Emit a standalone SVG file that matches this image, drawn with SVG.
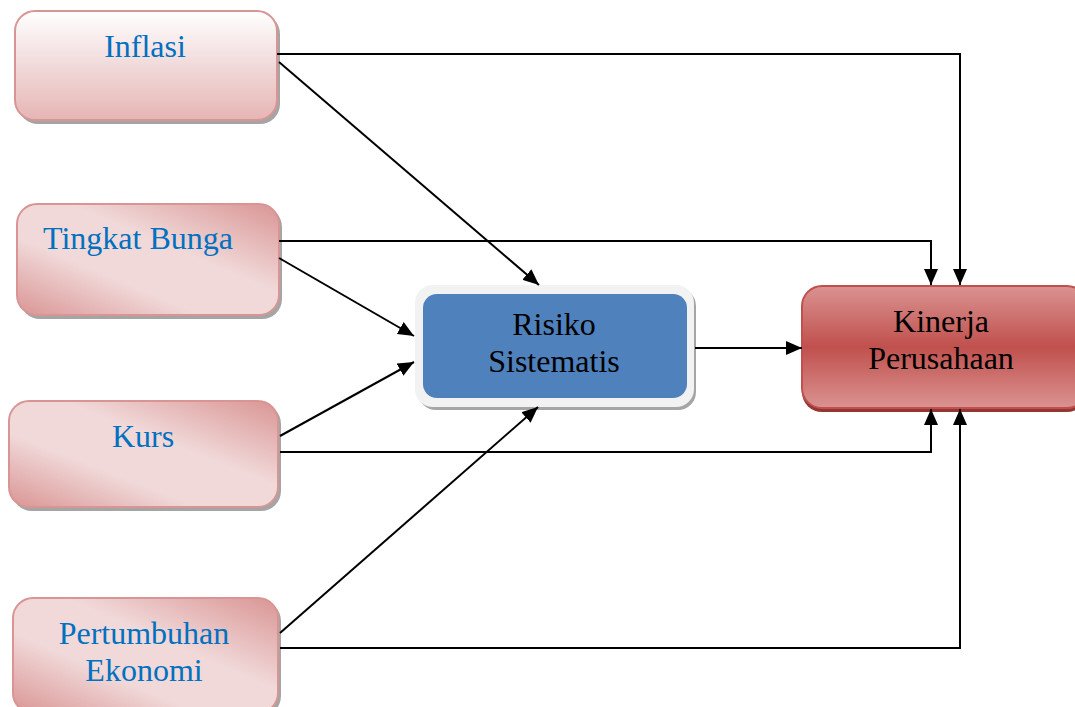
<svg xmlns="http://www.w3.org/2000/svg" width="1075" height="707" viewBox="0 0 1075 707">
<defs>
<linearGradient id="gInf" x1="0" y1="0" x2="0" y2="1">
<stop offset="0" stop-color="#FFFFFF"/>
<stop offset="0.55" stop-color="#F0D6D6"/>
<stop offset="1" stop-color="#E6B5B4"/>
</linearGradient>
<linearGradient id="gPink" x1="0" y1="1" x2="1" y2="0">
<stop offset="0" stop-color="#D99594"/>
<stop offset="0.35" stop-color="#F1D9D9"/>
<stop offset="0.6" stop-color="#F1D9D9"/>
<stop offset="1" stop-color="#D99594"/>
</linearGradient>
<linearGradient id="gRed" x1="0" y1="0" x2="0" y2="1">
<stop offset="0" stop-color="#DA9391"/>
<stop offset="0.5" stop-color="#C0504D"/>
<stop offset="1" stop-color="#DA9391"/>
</linearGradient>
<marker id="arr" markerWidth="16" markerHeight="14" refX="16" refY="7" orient="auto" markerUnits="userSpaceOnUse">
<path d="M0,0 L16,7 L0,14 Z" fill="#000"/>
</marker>
</defs>
<style>
.shadow{fill:#7F7F7F;opacity:0.7}
.pink{stroke:#D99594;stroke-width:2}
.lbl{font-family:"Liberation Serif","Times New Roman",serif;font-size:32px;fill:#0070C0;text-anchor:middle}
.dark{font-family:"Liberation Serif","Times New Roman",serif;font-size:32px;fill:#000;text-anchor:middle}
.con{fill:none;stroke:#000;stroke-width:2}
</style>
<rect width="1075" height="707" fill="#FFFFFF"/>

<g id="inflasi">
<rect class="shadow" x="18" y="14" width="262" height="110" rx="20"/>
<rect class="pink" x="15" y="11" width="262" height="109" rx="20" fill="url(#gInf)"/>
<text class="lbl" x="145" y="57">Inflasi</text>
</g>

<g id="tingkat-bunga">
<rect class="shadow" x="20" y="207" width="262" height="112" rx="20"/>
<rect class="pink" x="17" y="204" width="262" height="111" rx="20" fill="url(#gPink)"/>
<text class="lbl" x="43" y="249" style="text-anchor:start">Tingkat Bunga</text>
</g>

<g id="kurs">
<rect class="shadow" x="12" y="404" width="269" height="107" rx="20"/>
<rect class="pink" x="9" y="401" width="269" height="106" rx="20" fill="url(#gPink)"/>
<text class="lbl" x="143" y="447">Kurs</text>
</g>

<g id="pertumbuhan-ekonomi">
<rect class="shadow" x="16" y="601" width="265" height="115" rx="20"/>
<rect class="pink" x="13" y="598" width="265" height="115" rx="20" fill="url(#gPink)"/>
<text class="lbl" x="144" y="644">Pertumbuhan</text>
<text class="lbl" x="144" y="681">Ekonomi</text>
</g>

<g id="risiko-sistematis">
<rect class="shadow" x="418" y="288" width="278" height="122" rx="18"/>
<rect x="415" y="285" width="279" height="122" rx="18" fill="#F2F2F2"/>
<rect x="423" y="294" width="264" height="104" rx="14" fill="#4F81BD"/>
<text class="dark" x="554" y="335">Risiko</text>
<text class="dark" x="554" y="372">Sistematis</text>
</g>

<g id="kinerja-perusahaan">
<rect x="802" y="290" width="285" height="122" rx="20" fill="#943634"/>
<rect x="802" y="286" width="285" height="122" rx="20" fill="url(#gRed)" stroke="#C0504D" stroke-width="2"/>
<text class="dark" x="941" y="332">Kinerja</text>
<text class="dark" x="941" y="369">Perusahaan</text>
</g>

<g id="connectors">
<polyline class="con" points="277,54 960,54 960,285" marker-end="url(#arr)"/>
<line class="con" x1="279" y1="62" x2="539" y2="285" marker-end="url(#arr)"/>
<polyline class="con" points="279,241 931,241 931,285" marker-end="url(#arr)"/>
<line class="con" x1="279" y1="258" x2="414" y2="336" marker-end="url(#arr)"/>
<line class="con" x1="280" y1="436" x2="414" y2="362" marker-end="url(#arr)"/>
<polyline class="con" points="280,452 931,452 931,409" marker-end="url(#arr)"/>
<line class="con" x1="280" y1="633" x2="538" y2="407" marker-end="url(#arr)"/>
<polyline class="con" points="280,648 960,648 960,409" marker-end="url(#arr)"/>
<line class="con" x1="695" y1="348" x2="802" y2="348" marker-end="url(#arr)"/>
</g>
</svg>
